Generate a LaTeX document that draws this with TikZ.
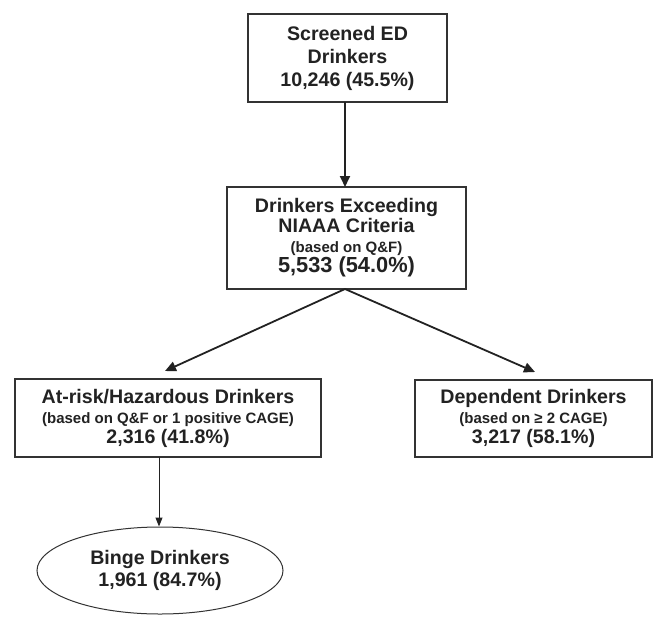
\documentclass[tikz,border=0pt]{standalone}
\usepackage{fontspec}
\setmainfont{Liberation Sans}
\usetikzlibrary{arrows.meta,shapes.geometric}
\definecolor{ink}{HTML}{222222}
\definecolor{edge}{HTML}{333333}
\begin{document}
\begin{tikzpicture}[x=1pt,y=1pt,
  box/.style={draw=edge,line width=1.3pt,fill=white,align=center,inner sep=0pt,
    text=ink,font=\fontsize{19.6}{23}\selectfont\bfseries},
  oval/.style={box,ellipse},
  big/.style={line width=1.8pt,draw=ink,-{Triangle[length=11pt,width=10pt]}},
  thin/.style={line width=1pt,draw=ink,-{Triangle[length=9pt,width=7pt]}}]
\newcommand{\smalltxt}[1]{{\fontsize{15}{18}\selectfont #1}}
\newcommand{\bignum}[1]{{\fontsize{21.8}{23}\selectfont #1}}
\useasboundingbox (0,0) rectangle (653,-616);
\node[box,minimum width=199pt,minimum height=88pt] (scr) at (347.5,-58)
  {Screened ED\\[0pt]Drinkers\\[0pt]10,246 (45.5\%)};
\node[box,minimum width=239pt,minimum height=102pt] (exc) at (346.5,-238)
  {Drinkers Exceeding\\[-3pt]NIAAA Criteria\\[-3pt]\smalltxt{(based on Q\&F)}\\[-3pt]\bignum{5,533 (54.0\%)}};
\node[box,minimum width=306pt,minimum height=78pt] (risk) at (168,-418)
  {At-risk/Hazardous Drinkers\\[-3pt]\smalltxt{(based on Q\&F or 1 positive CAGE)}\\[-3pt]2,316 (41.8\%)};
\node[box,minimum width=237pt,minimum height=77pt] (dep) at (533.5,-418.5)
  {Dependent Drinkers\\[-3pt]\smalltxt{(based on ≥ 2 CAGE)}\\[-3pt]3,217 (58.1\%)};
\node[oval,line width=1pt,minimum width=246pt,minimum height=87pt] (binge) at (160,-570.5)
  {\raisebox{-4pt}{\shortstack{Binge Drinkers\\[1pt]1,961 (84.7\%)}}};
\coordinate (split) at (345,-289);
\coordinate (ltip) at (165,-371);
\coordinate (rtip) at (535,-372);
\draw[big] (345,-102) coordinate (a) -- (345,-187) coordinate (b);
\draw[big] (split) -- (ltip);
\draw[big] (split) -- (rtip);
\draw[thin] (159,-457) coordinate (c) -- (159,-526.5) coordinate (d);
\end{tikzpicture}
\end{document}
